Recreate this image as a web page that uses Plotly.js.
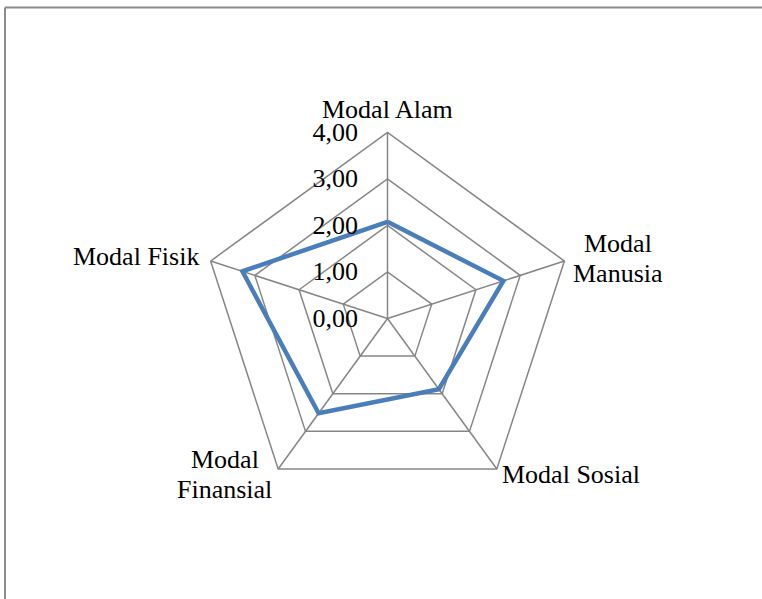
<!DOCTYPE html>
<html>
<head>
<meta charset="utf-8">
<script src="https://cdn.plot.ly/plotly-3.0.1.min.js"></script>
<style>
  html, body { margin: 0; padding: 0; background: #fff; }
  #chart { width: 762px; height: 599px; }
</style>
</head>
<body>
<div id="chart"></div>
<script>
// Livelihood capital scores (0–4 scale)
const categories = ['Modal Alam', 'Modal Manusia', 'Modal Sosial', 'Modal Finansial', 'Modal Fisik'];
const categoryLabels = [['Modal Alam'], ['Modal', 'Manusia'], ['Modal Sosial'], ['Modal', 'Finansial'], ['Modal Fisik']];
const scores = [2.08, 2.62, 1.88, 2.52, 3.28];
const radialTicks = [0, 1, 2, 3, 4];
const radialTickText = ['0,00', '1,00', '2,00', '3,00', '4,00'];

const W = 762, H = 599;
// web geometry in pixels: centre and outer radius of the pentagon
const CX = 387.5, CY = 318.5, R = 186;
const gridColor = '#868686';
const font = { family: '"Liberation Serif", "Times New Roman", serif', size: 26, color: '#000' };

// label placement around each outer vertex: anchor, line offsets (px)
const labelStyle = [
  { xanchor: 'center', dx: 0,     dy: [-23] },
  { xanchor: 'center', dx: 54,    dy: [-18, 12] },
  { xanchor: 'left',   dx: 5,     dy: [6] },
  { xanchor: 'center', dx: -53.5, dy: [-9.5, 20.5] },
  { xanchor: 'right',  dx: -11.5, dy: [-5] }
];

// close the polygon back to the first axis
const rClosed = scores.concat([scores[0]]);
const thetaClosed = categories.concat([categories[0]]);

const trace = {
  type: 'scatterpolar',
  r: rClosed,
  theta: thetaClosed,
  mode: 'lines',
  line: { color: '#4a7ebb', width: 4.5, shape: 'linear' },
  hoverinfo: 'skip',
  showlegend: false
};

// category labels beside the outer vertices
const annotations = [];
categories.forEach((c, i) => {
  const a = (90 - 72 * i) * Math.PI / 180;
  const vx = CX + R * Math.cos(a);
  const vy = CY - R * Math.sin(a);
  const st = labelStyle[i];
  categoryLabels[i].forEach((line, j) => {
    annotations.push({
      xref: 'paper', yref: 'paper',
      x: vx / W, y: 1 - vy / H,
      xanchor: st.xanchor, yanchor: 'middle',
      xshift: st.dx, yshift: -st.dy[j],
      text: line, showarrow: false,
      borderpad: 0, borderwidth: 0,
      font: font
    });
  });
});

const layout = {
  width: W,
  height: H,
  margin: { l: 0, r: 0, t: 0, b: 0, pad: 0 },
  paper_bgcolor: '#fff',
  font: font,
  showlegend: false,
  polar: {
    domain: { x: [(CX - R) / W, (CX + R) / W], y: [1 - (CY + R) / H, 1 - (CY - R) / H] },
    gridshape: 'linear',
    bgcolor: 'rgba(0,0,0,0)',
    radialaxis: {
      range: [0, 4],
      angle: 90,
      tickangle: 90,
      tickvals: radialTicks,
      ticktext: radialTickText,
      ticks: 'outside',
      ticklen: 20,
      tickcolor: 'rgba(0,0,0,0)',
      showline: false,
      gridcolor: gridColor,
      gridwidth: 1.5,
      tickfont: font,
      side: 'counterclockwise'
    },
    angularaxis: {
      direction: 'clockwise',
      rotation: 90,
      categoryorder: 'array',
      categoryarray: categories,
      showline: true,
      linecolor: gridColor,
      linewidth: 1.5,
      gridcolor: gridColor,
      gridwidth: 1.5,
      ticks: '',
      showticklabels: false
    }
  },
  annotations: annotations,
  shapes: [
    { type: 'line', xref: 'paper', yref: 'paper', x0: 5 / W, x1: 1.01, y0: 1 - 7.5 / H, y1: 1 - 7.5 / H,
      line: { color: '#8c8c8c', width: 2 } },
    { type: 'line', xref: 'paper', yref: 'paper', x0: 5 / W, x1: 5 / W, y0: 1 - 7.5 / H, y1: -0.01,
      line: { color: '#8c8c8c', width: 2 } }
  ]
};

Plotly.newPlot('chart', [trace], layout, { displayModeBar: false, staticPlot: true });
</script>
</body>
</html>
